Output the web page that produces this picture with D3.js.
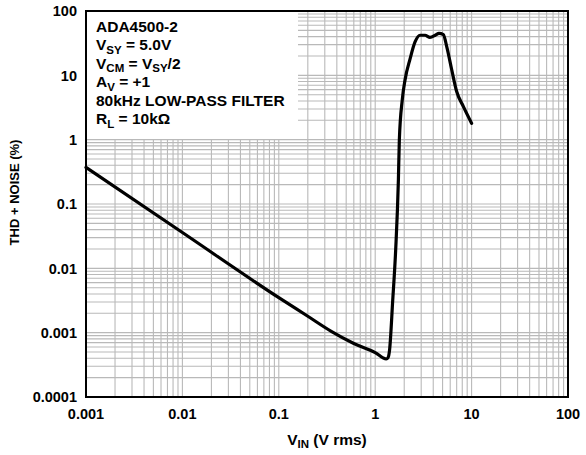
<!DOCTYPE html>
<html>
<head>
<meta charset="utf-8">
<script src="https://cdn.jsdelivr.net/npm/d3@7"></script>
<style>
  body { margin: 0; background: #fff; }
  svg text { font-family: "Liberation Sans", Arial, sans-serif; font-weight: bold; fill: #000; }
</style>
</head>
<body>
<svg id="chart" width="586" height="455"></svg>
<script>
// V IN (V rms) and THD + N (%)
const vin = [0.001, 0.01, 0.1, 0.2, 0.35, 0.6, 1.0, 1.3, 1.36, 1.41, 1.52, 1.63, 1.74, 1.78,
  1.91, 2.04, 2.3, 2.59, 2.92, 3.29, 3.7, 4.2, 4.59, 5.09, 5.52, 6.22, 7.0, 8.2, 10.0];
const thd = [0.37, 0.036, 0.0035, 0.0018, 0.00105, 0.00068, 0.00049, 0.00039, 0.00041, 0.00054, 0.0032, 0.019, 0.237, 0.99,
  4.2, 8.5, 18, 33, 42, 42, 39, 42, 45, 43, 28, 12.2, 5.6, 3.3, 1.8];

const xTicks = [0.001, 0.01, 0.1, 1, 10, 100];
const xTickLabels = ["0.001", "0.01", "0.1", "1", "10", "100"];
const yTicks = [0.0001, 0.001, 0.01, 0.1, 1, 10, 100];
const yTickLabels = ["0.0001", "0.001", "0.01", "0.1", "1", "10", "100"];

// legend lines: [text, isSubscript] segments
const legendLines = [
  [["ADA4500-2", false]],
  [["V", false], ["SY", true], [" = 5.0V", false]],
  [["V", false], ["CM", true], [" = V", false], ["SY", true], ["/2", false]],
  [["A", false], ["V", true], [" = +1", false]],
  [["80kHz LOW-PASS FILTER", false]],
  [["R", false], ["L", true], [" = 10kΩ", false]]
];

const svg = d3.select("#chart");
const margin = { top: 11, right: 18, bottom: 58, left: 86 };
const width = +svg.attr("width") - margin.left - margin.right;
const height = +svg.attr("height") - margin.top - margin.bottom;

const g = svg.append("g").attr("transform", `translate(${margin.left},${margin.top})`);

const x = d3.scaleLog().domain([0.001, 100]).range([0, width]);
const y = d3.scaleLog().domain([0.0001, 100]).range([height, 0]);

// grid (major + minor lines from the log scale ticks)
g.append("g")
  .selectAll("line")
  .data(x.ticks())
  .enter()
  .append("line")
  .attr("x1", (d) => x(d)).attr("x2", (d) => x(d))
  .attr("y1", 0).attr("y2", height)
  .attr("stroke", "#b9b9b9").attr("stroke-width", 1.1);

g.append("g")
  .selectAll("line")
  .data(y.ticks())
  .enter()
  .append("line")
  .attr("y1", (d) => y(d)).attr("y2", (d) => y(d))
  .attr("x1", 0).attr("x2", width)
  .attr("stroke", "#b9b9b9").attr("stroke-width", 1.1);

// white box behind the legend text
g.append("rect")
  .attr("x", 0).attr("y", 0)
  .attr("width", 212).attr("height", 128)
  .attr("fill", "#fff");

// plot frame
g.append("rect")
  .attr("x", 0).attr("y", 0)
  .attr("width", width).attr("height", height)
  .attr("fill", "none")
  .attr("stroke", "#000")
  .attr("stroke-width", 2);

// curve
const line = d3.line()
  .x((d, i) => x(vin[i]))
  .y((d, i) => y(thd[i]))
  .curve(d3.curveMonotoneX);

g.append("path")
  .datum(vin)
  .attr("d", line)
  .attr("fill", "none")
  .attr("stroke", "#000")
  .attr("stroke-width", 3.2)
  .attr("stroke-linejoin", "round")
  .attr("stroke-linecap", "round");

// tick labels
g.selectAll(".xlab")
  .data(xTicks)
  .enter()
  .append("text")
  .attr("class", "xlab")
  .attr("x", (d) => x(d))
  .attr("y", height + 22)
  .attr("text-anchor", "middle")
  .style("font-size", "14.5px")
  .text((d, i) => xTickLabels[i]);

g.selectAll(".ylab")
  .data(yTicks)
  .enter()
  .append("text")
  .attr("class", "ylab")
  .attr("x", -9)
  .attr("y", (d) => y(d))
  .attr("dy", "0.36em")
  .attr("text-anchor", "end")
  .style("font-size", "14.5px")
  .text((d, i) => yTickLabels[i]);

// axis titles
const xt = svg.append("text")
  .attr("x", 327)
  .attr("y", 445)
  .attr("text-anchor", "middle")
  .style("font-size", "15.5px");
xt.append("tspan").text("V");
xt.append("tspan").attr("dy", 3).style("font-size", "11.5px").text("IN");
xt.append("tspan").attr("dy", -3).text(" (V rms)");

svg.append("text")
  .attr("transform", "translate(18.5,192.5) rotate(-90)")
  .attr("text-anchor", "middle")
  .style("font-size", "13px")
  .text("THD + NOISE (%)");

// legend text
legendLines.forEach((segs, i) => {
  const t = svg.append("text")
    .attr("x", 96)
    .attr("y", 31.5 + i * 18.5)
    .style("font-size", "15.5px");
  let sub = false;
  segs.forEach(([s, isSub]) => {
    const ts = t.append("tspan").text(s);
    if (isSub && !sub) ts.attr("dy", 3.5).style("font-size", "11.5px");
    if (!isSub && sub) ts.attr("dy", -3.5);
    sub = isSub;
  });
});
</script>
</body>
</html>
